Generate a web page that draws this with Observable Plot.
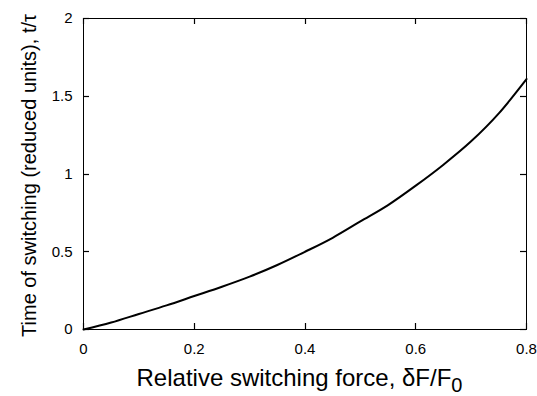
<!DOCTYPE html>
<html><head><meta charset="utf-8">
<script src="https://cdn.jsdelivr.net/npm/d3@7"></script>
<script src="https://cdn.jsdelivr.net/npm/@observablehq/plot@0.6"></script>
<style>body{margin:0;background:#fff} svg{display:block}</style>
</head><body><div id="chart"></div>
<script>
// Data
const force = [0, 0.05, 0.1, 0.15, 0.2, 0.25, 0.3, 0.35, 0.4, 0.45, 0.5, 0.55, 0.6, 0.65, 0.7, 0.75, 0.8];
const time  = [0, 0.045, 0.1, 0.155, 0.215, 0.275, 0.34, 0.415, 0.5, 0.59, 0.695, 0.8, 0.925, 1.06, 1.21, 1.39, 1.61];
const xTicks = [0, 0.2, 0.4, 0.6, 0.8];
const yTicks = [0, 0.5, 1, 1.5, 2];
const xLabelMain = "Relative switching force, δF/F";
const xLabelSub = "0";
const yLabel = "Time of switching (reduced units), t/τ";

const data = force.map((f, i) => ({f, t: time[i]}));
const W = 537, H = 396, mL = 83, mR = 11, mT = 18, mB = 67;
const font = "'Liberation Sans', Arial, sans-serif";
const T = 6; // inward tick length

const chart = Plot.plot({
  width: W, height: H,
  marginLeft: mL, marginRight: mR, marginTop: mT, marginBottom: mB,
  style: {fontFamily: font, fontSize: "15px", background: "#fff"},
  x: {domain: [0, 0.8], label: null},
  y: {domain: [0, 2], label: null},
  marks: [
    Plot.frame({stroke: "#000"}),
    Plot.axisX(xTicks, {anchor: "bottom", tickSize: 0, tickPadding: 14, fontSize: 15, fill: "#000", tickFormat: d => String(d), label: null}),
    Plot.axisY(yTicks, {anchor: "left", tickSize: 0, tickPadding: 11, fontSize: 15, fill: "#000", tickFormat: d => String(d), label: null}),
    Plot.line(data, {x: "f", y: "t", stroke: "#000", strokeWidth: 2, curve: "monotone-x"})
  ]
});

const svg = d3.select(chart);
const sx = chart.scale("x"), sy = chart.scale("y");
const x0 = mL, x1 = W - mR, y0 = H - mB, y1 = mT;
// inward ticks on all four sides, positioned through Plot's scales
const tg = svg.append("g").attr("stroke", "#000").attr("stroke-width", 1.2);
xTicks.forEach(v => {
  const px = Math.round(sx.apply(v)) + 0.5;
  tg.append("line").attr("x1", px).attr("x2", px).attr("y1", y0).attr("y2", y0 - T);
  tg.append("line").attr("x1", px).attr("x2", px).attr("y1", y1).attr("y2", y1 + T);
});
yTicks.forEach(v => {
  const py = Math.round(sy.apply(v)) + 0.5;
  tg.append("line").attr("x1", x0).attr("x2", x0 + T).attr("y1", py).attr("y2", py);
  tg.append("line").attr("x1", x1).attr("x2", x1 - T).attr("y1", py).attr("y2", py);
});

const cx = (x0 + x1) / 2;
const cy = (y0 + y1) / 2;
const xl = svg.append("text")
  .attr("x", cx - 5).attr("y", 386)
  .attr("text-anchor", "middle")
  .style("font-family", font).style("font-size", "24px").attr("fill", "#000");
xl.append("tspan").text(xLabelMain);
xl.append("tspan").attr("dy", 6).style("font-size", "20px").text(xLabelSub);

svg.append("text")
  .attr("transform", `translate(36,${cy + 2}) rotate(-90)`)
  .attr("text-anchor", "middle")
  .style("font-family", font).style("font-size", "20px").attr("fill", "#000")
  .text(yLabel);

document.getElementById("chart").appendChild(chart);
</script>
</body></html>
